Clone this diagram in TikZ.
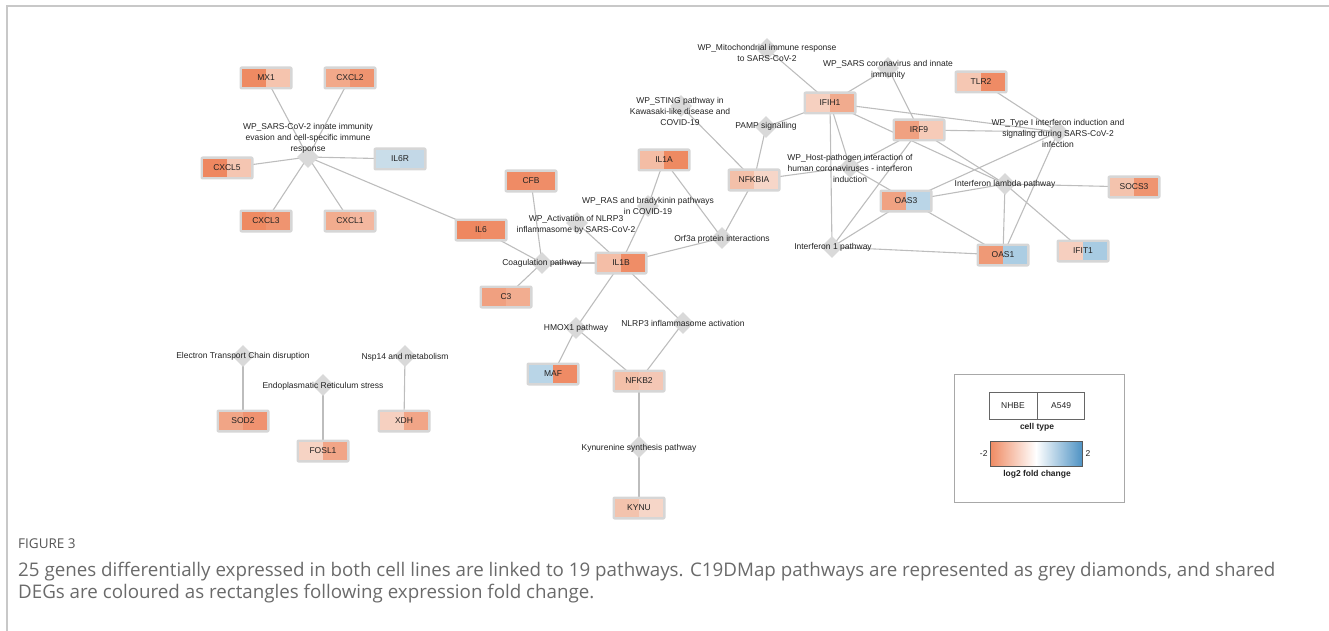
\documentclass[tikz,border=0pt]{standalone}
\usepackage{fontspec}
\setmainfont{Liberation Sans}
\newfontfamily\capfont{Open Sans}
\usetikzlibrary{shapes.geometric}
\pgfdeclarelayer{bg}
\pgfsetlayers{bg,main}
\definecolor{dgrey}{HTML}{D9D9D9}
\definecolor{gborder}{HTML}{D6D6D6}
\definecolor{egrey}{HTML}{BDBDBD}
\definecolor{framegrey}{HTML}{C8C8C8}
\definecolor{lgrey}{HTML}{A8A8A8}
\definecolor{capgrey}{HTML}{6A6A6A}
\definecolor{figgrey}{HTML}{555555}
\definecolor{txt}{HTML}{222222}
\definecolor{lorange}{HTML}{EF8A62}
\definecolor{lblue}{HTML}{4F93C4}
\tikzset{
  pathway/.style={diamond, fill=dgrey, minimum width=22pt, minimum height=22pt, inner sep=0pt},
  plabel/.style={font=\fontsize{8.5}{11}\selectfont, align=center, text=txt, inner sep=0pt},
  genebox/.style={rectangle, rounded corners=2pt, fill=gborder, minimum width=53pt, minimum height=23pt, inner sep=0pt},
  genelabel/.style={font=\fontsize{8.5}{10}\selectfont, text=txt, inner sep=0pt},
  edge/.style={draw=egrey, line width=1.1pt},
  legtext/.style={font=\fontsize{8.5}{10}\selectfont, text=txt, inner sep=0pt},
  legbold/.style={font=\fontsize{8.5}{10}\selectfont\bfseries, text=txt, inner sep=0pt},
}
\newcommand\gene[5]{%
  \node[genebox] (#1) at (#2) {};
  \definecolor{gL}{HTML}{#3}\definecolor{gR}{HTML}{#4}%
  \fill[gL] ([xshift=3pt,yshift=-3pt]#1.north west) rectangle ([yshift=3pt]#1.south);
  \fill[gR] ([yshift=-3pt]#1.north) rectangle ([xshift=-3pt,yshift=3pt]#1.south east);
  \node[genelabel] (#1t) at (#1.center) {#5};
}
\begin{document}
\begin{tikzpicture}[x=1pt,y=-1pt]
\useasboundingbox (0,0) rectangle (1329,631);
\draw[framegrey, line width=1.3pt] (7,631) -- (7,6) -- (1329,6);

% pathways
\node[pathway] (pSARS) at (308,157) {};
\node[pathway] (pCoag) at (542,263) {};
\node[pathway] (pAct) at (577,223) {};
\node[pathway] (pRAS) at (648,206) {};
\node[pathway] (pOrf) at (722,238) {};
\node[pathway] (pSTING) at (681,106) {};
\node[pathway] (pPAMP) at (766,127) {};
\node[pathway] (pMito) at (767,49) {};
\node[pathway] (pSARScor) at (888,68) {};
\node[pathway] (pHost) at (850,167) {};
\node[pathway] (pIFN) at (832,247) {};
\node[pathway] (pType) at (1058,132) {};
\node[pathway] (pLambda) at (1005,184) {};
\node[pathway] (pHMOX) at (576,328) {};
\node[pathway] (pNLRP) at (683,323) {};
\node[pathway] (pKyn) at (639,447) {};
\node[pathway] (pETC) at (243,356) {};
\node[pathway] (pER) at (323,385) {};
\node[pathway] (pNsp) at (405,356) {};

% genes
\gene{MX1}{266,78}{EE8A62}{F5C4AE}{MX1}
\gene{CXCL2}{350,78}{F2A98A}{EF9470}{CXCL2}
\gene{CXCL5}{227,168}{EE8760}{F5C6B2}{CXCL5}
\gene{IL6R}{400,159}{C9DDE9}{C3D8E7}{IL6R}
\gene{CXCL3}{266,221}{EE8A62}{EF9470}{CXCL3}
\gene{CXCL1}{350,221}{F2AC8E}{F3B79F}{CXCL1}
\gene{IL6}{481,230}{EE8760}{EF8C66}{IL6}
\gene{CFB}{531,181}{EF8B65}{EF8D68}{CFB}
\gene{C3}{506,297}{F0A080}{F2AD90}{C3}
\gene{IL1A}{664,160}{F4BDA5}{EE8A62}{IL1A}
\gene{IL1B}{621,263}{F4BEA7}{EF8D67}{IL1B}
\gene{NFKBIA}{754,180}{F3C0A9}{F6D6C8}{NFKBIA}
\gene{IFIH1}{830,103}{F6D0C0}{F1AB8E}{IFIH1}
\gene{IRF9}{919,130}{F0A181}{F6CBB8}{IRF9}
\gene{TLR2}{981,82}{F5C7B3}{EF8B65}{TLR2}
\gene{OAS3}{906,201}{F0A282}{BAD5E7}{OAS3}
\gene{SOCS3}{1134,187}{F4C3AD}{EF9470}{SOCS3}
\gene{OAS1}{1003,255}{EF9976}{ABCDE3}{OAS1}
\gene{IFIT1}{1083,251}{F6CFBF}{A8CBE2}{IFIT1}
\gene{MAF}{553,374}{B9D5E7}{EF8B65}{MAF}
\gene{NFKB2}{639,381}{F3C0A9}{F4C7B5}{NFKB2}
\gene{KYNU}{639,508}{F3C3AD}{F6D6C8}{KYNU}
\gene{SOD2}{243,421}{F1A586}{EF9270}{SOD2}
\gene{FOSL1}{323,451}{F6D3C4}{F1A587}{FOSL1}
\gene{XDH}{404,421}{F6D0C0}{F1A587}{XDH}

% edges
\begin{pgfonlayer}{bg}
\foreach \a/\b in {pSARS/MX1,pSARS/CXCL2,pSARS/CXCL5,pSARS/IL6R,pSARS/CXCL3,pSARS/CXCL1,pSARS/IL6,
  pCoag/CFB,pCoag/IL6,pCoag/C3,pCoag/IL1B,pAct/IL1B,pRAS/IL1A,pRAS/IL1B,
  pOrf/IL1A,pOrf/IL1B,pOrf/NFKBIA,pSTING/NFKBIA,pPAMP/NFKBIA,pPAMP/IFIH1,pMito/IFIH1,
  pSARScor/IFIH1,pSARScor/IRF9,pHost/NFKBIA,pHost/IFIH1,pHost/IRF9,pHost/OAS1,
  pIFN/IFIH1,pIFN/IRF9,pIFN/OAS3,pIFN/OAS1,
  pType/IFIH1,pType/IRF9,pType/OAS3,pType/TLR2,pType/OAS1,
  pLambda/IFIH1,pLambda/IRF9,pLambda/OAS3,pLambda/SOCS3,pLambda/OAS1,pLambda/IFIT1,
  pHMOX/IL1B,pHMOX/MAF,pHMOX/NFKB2,pNLRP/IL1B,pNLRP/NFKB2,pKyn/NFKB2,pKyn/KYNU,
  pETC/SOD2,pER/FOSL1,pNsp/XDH}
  \draw[edge] (\a.center) -- (\b.center);
\end{pgfonlayer}

% pathway labels
\node[plabel] (lSARS) at (308,138) {WP\_SARS-CoV-2 innate immunity\\evasion and cell-specific immune\\response};
\node[plabel] (lCoag) at (542,263) {Coagulation pathway};
\node[plabel] (lAct) at (576,225) {WP\_Activation of NLRP3\\inflammasome by SARS-CoV-2};
\node[plabel] (lRAS) at (648,205.5) {WP\_RAS and bradykinin pathways\\in COVID-19};
\node[plabel] (lOrf) at (722,239) {Orf3a protein interactions};
\node[plabel] (lSTING) at (680,111) {WP\_STING pathway in\\Kawasaki-like disease and\\COVID-19};
\node[plabel] (lPAMP) at (766,126) {PAMP signalling};
\node[plabel] (lMito) at (767,52.5) {WP\_Mitochondrial immune response\\to SARS-CoV-2};
\node[plabel] (lSARScor) at (888,70) {WP\_SARS coronavirus and innate\\immunity};
\node[plabel] (lHost) at (850,168) {WP\_Host-pathogen interaction of\\human coronaviruses - interferon\\induction};
\node[plabel] (lIFN) at (833,247) {Interferon 1 pathway};
\node[plabel] (lType) at (1058,133) {WP\_Type I interferon induction and\\signaling during SARS-CoV-2\\infection};
\node[plabel] (lLambda) at (1005,184) {Interferon lambda pathway};
\node[plabel] (lHMOX) at (576,328) {HMOX1 pathway};
\node[plabel] (lNLRP) at (683,323) {NLRP3 inflammasome activation};
\node[plabel] (lKyn) at (639,448) {Kynurenine synthesis pathway};
\node[plabel] (lETC) at (243,356) {Electron Transport Chain disruption};
\node[plabel] (lER) at (323,386) {Endoplasmatic Reticulum stress};
\node[plabel] (lNsp) at (405,357) {Nsp14 and metabolism};

% legend
\node[draw=lgrey, line width=0.8pt, minimum width=170pt, minimum height=128pt, inner sep=0pt] (legend) at (1039,438) {};
\node[draw=gray!80!black, line width=0.6pt, minimum width=48pt, minimum height=27pt, legtext] (nhbe) at (1013,405.5) {NHBE};
\node[draw=gray!80!black, line width=0.6pt, minimum width=47pt, minimum height=27pt, legtext, anchor=west] (a549) at (nhbe.east) {A549};
\node[legbold] (celltype) at (1037,427) {cell type};
\node[draw=gray!70!black, line width=0.6pt, minimum width=92pt, minimum height=25pt, inner sep=0pt,
  left color=lorange, right color=lblue, middle color=white] (bar) at (1036,453.5) {};
\node[legtext, anchor=east] (mtwo) at ([xshift=-2pt]bar.west) {-2};
\node[legtext, anchor=west] (ptwo) at ([xshift=3pt]bar.east) {2};
\node[legbold] (lfc) at (1037,474) {log2 fold change};

% caption
\node[anchor=base west, inner sep=0pt, font=\capfont\fontsize{13.5}{15}\selectfont, text=figgrey] (fig) at (18,548) {FIGURE 3};
\node[anchor=base west, inner sep=0pt, font=\capfont\fontsize{18.75}{22}\selectfont, text=capgrey] (cap1) at (18,576) {25 genes differentially expressed in both cell lines are linked to 19 pathways. C19DMap pathways are represented as grey diamonds, and shared};
\node[anchor=base west, inner sep=0pt, font=\capfont\fontsize{18.75}{22}\selectfont, text=capgrey] (cap2) at (18,598) {DEGs are coloured as rectangles following expression fold change.};
\end{tikzpicture}
\end{document}
